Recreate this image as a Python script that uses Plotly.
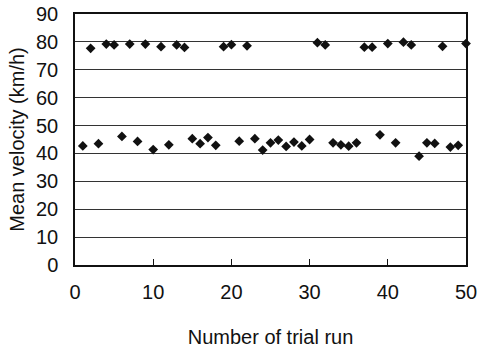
import plotly.graph_objects as go

runs = list(range(1, 51))
velocity = [
    42.7, 77.7, 43.5, 79.2, 78.9, 46.1, 79.2, 44.3, 79.2, 41.4,
    78.3, 43.1, 78.9, 78.0, 45.3, 43.5, 45.7, 42.9, 78.3, 79.0,
    44.4, 78.6, 45.3, 41.2, 43.8, 44.8, 42.5, 44.1, 42.7, 45.0,
    79.7, 78.9, 43.8, 43.1, 42.6, 43.8, 78.1, 78.1, 46.7, 79.4,
    43.8, 79.9, 78.9, 39.0, 43.8, 43.6, 78.4, 42.3, 42.9, 79.4,
]
x_ticks = [0, 10, 20, 30, 40, 50]
y_ticks = [0, 10, 20, 30, 40, 50, 60, 70, 80, 90]

fig = go.Figure()
fig.add_trace(go.Scatter(
    x=runs, y=velocity, mode="markers",
    marker=dict(symbol="diamond", size=7.5, color="#111111"),
    cliponaxis=False,
))

font = dict(family="Liberation Sans, Arial, sans-serif", color="#111111")
fig.update_layout(
    width=478, height=350,
    margin=dict(l=75, r=12, t=14, b=85),
    paper_bgcolor="white", plot_bgcolor="white",
    showlegend=False,
    font=font,
)
fig.update_xaxes(
    range=[0, 50], tickvals=x_ticks, ticktext=[str(v) for v in x_ticks],
    ticks="inside", ticklen=6, tickcolor="#111111", tickwidth=1,
    showline=True, linecolor="#111111", linewidth=1.5, mirror=True,
    showgrid=False, zeroline=False, automargin=False,
    tickfont=dict(size=20, **font), ticklabelstandoff=8,
    title=dict(text="Number of trial run", font=dict(size=20, **font), standoff=28),
)
fig.update_yaxes(
    range=[0, 90], tickvals=y_ticks, ticktext=[str(v) for v in y_ticks],
    ticks="", showline=True, linecolor="#111111", linewidth=1.5, mirror=True,
    showgrid=True, gridcolor="#333333", gridwidth=1, zeroline=False, automargin=False,
    tickfont=dict(size=20, **font), ticklabelstandoff=11,
    title=dict(text="Mean velocity (km/h)", font=dict(size=20, **font), standoff=6),
)

fig.write_html("out.html")
